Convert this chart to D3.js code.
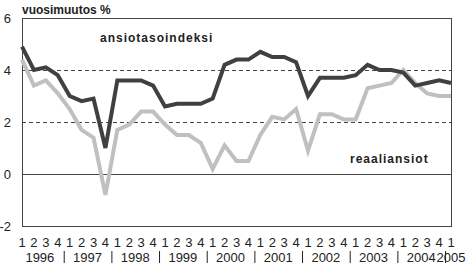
<!DOCTYPE html>
<html>
<head>
<meta charset="utf-8">
<script src="https://cdn.jsdelivr.net/npm/d3@7"></script>
<style>
  body { margin: 0; background: #fff; }
  svg { display: block; }
  .tick-txt { font-family: "Liberation Sans Narrow", "Arial Narrow", "Liberation Sans", Arial, sans-serif; font-size: 13px; fill: #222; }
  .lbl { font-family: "Liberation Sans", Arial, sans-serif; font-weight: bold; font-size: 12px; fill: #222; letter-spacing: 1px; }
</style>
</head>
<body>
<svg id="chart" width="467" height="264"></svg>
<script>
// data, quarterly 1996Q1 .. 2005Q1
var years = ["1996", "1997", "1998", "1999", "2000", "2001", "2002", "2003", "2004", "2005"]
var quarters = ["1", "2", "3", "4"]
var ansiotaso = [4.9, 4.0, 4.1, 3.8, 3.0, 2.8, 2.9, 1.0, 3.6, 3.6, 3.6, 3.4, 2.6, 2.7, 2.7, 2.7,
  2.9, 4.2, 4.4, 4.4, 4.7, 4.5, 4.5, 4.3, 3.0, 3.7, 3.7, 3.7, 3.8, 4.2, 4.0, 4.0, 3.9, 3.4, 3.5, 3.6, 3.5]
var reaali = [4.4, 3.4, 3.6, 3.1, 2.5, 1.7, 1.4, -0.8, 1.7, 1.9, 2.4, 2.4, 1.9, 1.5, 1.5, 1.2,
  0.2, 1.1, 0.5, 0.5, 1.5, 2.2, 2.1, 2.5, 0.9, 2.3, 2.3, 2.1, 2.1, 3.3, 3.4, 3.5, 4.0, 3.5, 3.1, 3.0, 3.0]
var yTicks = [-2, 0, 2, 4, 6]
var gridDashed = [2, 4]

var svg = d3.select("#chart")
var plotL = 22, plotR = 451, plotT = 18, plotB = 226

var x = d3.scaleLinear().domain([0, ansiotaso.length - 1]).range([plotL, plotR])
var y = d3.scaleLinear().domain([-2, 6]).range([plotB, plotT])

// gridlines
svg.selectAll(".grid").data(gridDashed).enter().append("line")
  .attr("x1", plotL).attr("x2", plotR)
  .attr("y1", d => y(d) + 0.5).attr("y2", d => y(d) + 0.5)
  .attr("stroke", "#444").attr("stroke-dasharray", "4,3")

// zero line
svg.append("line")
  .attr("x1", plotL).attr("x2", plotR)
  .attr("y1", y(0) + 0.5).attr("y2", y(0) + 0.5)
  .attr("stroke", "#444")

// frame
svg.append("rect")
  .attr("x", plotL + 0.5).attr("y", plotT + 0.5)
  .attr("width", plotR - plotL).attr("height", plotB - plotT)
  .attr("fill", "none").attr("stroke", "#444")

// y labels
svg.selectAll(".ylab").data(yTicks).enter().append("text")
  .attr("class", "tick-txt")
  .attr("x", 11).attr("y", d => y(d) + 5)
  .attr("text-anchor", "end")
  .text(d => d)

// lines
var line = d3.line().x((d, i) => x(i)).y(d => y(d))

svg.append("path").datum(reaali)
  .attr("d", line).attr("fill", "none")
  .attr("stroke", "#c0c0c0").attr("stroke-width", 4)

svg.append("path").datum(ansiotaso)
  .attr("d", line).attr("fill", "none")
  .attr("stroke", "#404040").attr("stroke-width", 4)

// x labels: quarter numbers
svg.selectAll(".qlab").data(ansiotaso).enter().append("text")
  .attr("class", "tick-txt")
  .attr("x", (d, i) => x(i)).attr("y", 247)
  .attr("text-anchor", "middle")
  .text((d, i) => quarters[i % 4])

// year labels, centered on their quarters
svg.selectAll(".yrlab").data(years).enter().append("text")
  .attr("class", "tick-txt")
  .attr("x", (d, i) => {
    var last = Math.min(i * 4 + 3, ansiotaso.length - 1)
    return (x(i * 4) + x(last)) / 2
  })
  .attr("y", 262)
  .attr("text-anchor", "middle")
  .text(d => d)

// separators between years
svg.selectAll(".sep").data(years.slice(1)).enter().append("line")
  .attr("x1", (d, i) => (x(i * 4 + 3) + x(i * 4 + 4)) / 2 + 0.5)
  .attr("x2", (d, i) => (x(i * 4 + 3) + x(i * 4 + 4)) / 2 + 0.5)
  .attr("y1", 251).attr("y2", 263)
  .attr("stroke", "#222")

// titles
svg.append("text").attr("class", "lbl").attr("x", 22).attr("y", 14)
  .style("letter-spacing", "0px").text("vuosimuutos %")
svg.append("text").attr("class", "lbl").attr("x", 100).attr("y", 42).text("ansiotasoindeksi")
svg.append("text").attr("class", "lbl").attr("x", 350).attr("y", 163).text("reaaliansiot")
</script>
</body>
</html>
